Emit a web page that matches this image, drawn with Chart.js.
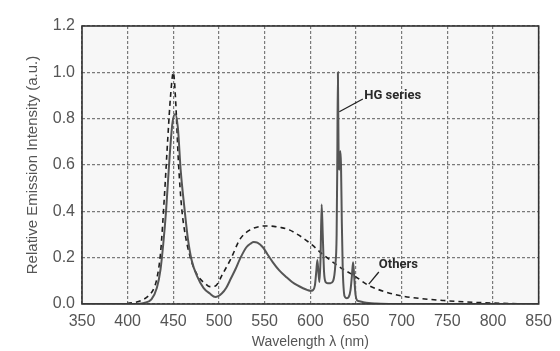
<!DOCTYPE html>
<html>
<head>
<meta charset="utf-8">
<title>Relative Emission Intensity</title>
<script src="https://cdn.jsdelivr.net/npm/chart.js@4.4.0/dist/chart.umd.min.js"></script>
<style>
  html, body { margin: 0; padding: 0; background: #fff; }
  #wrap { width: 560px; height: 351px; position: relative; }
</style>
</head>
<body>
<div id="wrap"><canvas id="chart-spectrum"></canvas></div>
<script>
/* Emission spectra — HG series vs. others */

// ── data ──
const hgWavelengths = [350, 405, 418, 426, 432, 436, 439, 442, 446, 449, 452, 455, 458, 462, 466, 470, 476, 483, 490, 496,
  503, 508, 513, 518, 523, 530, 535, 538, 542, 548, 553, 559, 566, 574, 580, 586, 592, 597, 600, 603,
  605, 606.5, 607.7, 609, 610, 611.2, 612.4, 613.6, 615, 616.7, 619, 622, 625, 627.4, 628.8, 629.5, 630.2, 631, 631.8, 632.8,
  633.6, 634.5, 635.5, 636.8, 638, 640, 642, 644, 645.5, 646.8, 648, 649.5, 651, 654, 658, 664, 672, 690, 720, 850];
const hgIntensity = [0, 0, 0.005, 0.02, 0.07, 0.15, 0.26, 0.4, 0.64, 0.78, 0.82, 0.76, 0.58, 0.42, 0.28, 0.19, 0.12, 0.07, 0.045, 0.03,
  0.045, 0.07, 0.11, 0.15, 0.195, 0.245, 0.262, 0.268, 0.265, 0.245, 0.215, 0.18, 0.145, 0.115, 0.095, 0.08, 0.068, 0.06, 0.057, 0.06,
  0.08, 0.14, 0.19, 0.13, 0.095, 0.2, 0.43, 0.3, 0.14, 0.095, 0.09, 0.09, 0.1, 0.17, 0.3, 0.6, 1.0, 0.62, 0.58, 0.66,
  0.6, 0.35, 0.15, 0.05, 0.03, 0.025, 0.03, 0.06, 0.12, 0.18, 0.12, 0.04, 0.017, 0.012, 0.008, 0.004, 0.002, 0, 0, 0];

const othersWavelengths = [350, 390, 405, 415, 424, 429, 432, 436, 440, 444, 447, 450, 452.5, 455.5, 459, 463, 468, 473, 479, 485,
  490, 496, 504, 513, 523, 534, 545, 552, 560, 568, 577, 584, 592, 602, 612, 625, 636, 647, 663, 680,
  700, 720, 746, 770, 800, 830, 850];
const othersIntensity = [0, 0, 0.005, 0.015, 0.04, 0.07, 0.11, 0.22, 0.45, 0.72, 0.9, 1.0, 0.88, 0.62, 0.42, 0.3, 0.21, 0.15, 0.11, 0.088,
  0.075, 0.078, 0.13, 0.195, 0.28, 0.32, 0.335, 0.337, 0.335, 0.33, 0.32, 0.305, 0.285, 0.255, 0.22, 0.18, 0.15, 0.125, 0.082, 0.055,
  0.035, 0.024, 0.015, 0.009, 0.004, 0.001, 0];

const xTicks = [350, 400, 450, 500, 550, 600, 650, 700, 750, 800, 850];
const yTicks = [0, 0.2, 0.4, 0.6, 0.8, 1.0, 1.2];

const seriesLabels = ['HG series', 'Others'];

(function () {
  'use strict';

  const toPoints = (xs, ys) => xs.map((x, i) => ({ x: x, y: ys[i] }));

  // callouts: text + leader line, anchored in data units
  const CALLOUTS = [
    { text: seriesLabels[0], at: [659, 0.90], from: [631.7, 0.83], to: [657.5, 0.885] },
    { text: seriesLabels[1], at: [675, 0.168], from: [664, 0.086], to: [675, 0.138] }
  ];

  // ══════════════════════════════════════════
  // PLUGINS
  // ══════════════════════════════════════════
  const plotFrame = {
    id: 'plotFrame',
    beforeDraw(chart) {
      const a = chart.chartArea, ctx = chart.ctx;
      ctx.save();
      ctx.fillStyle = '#f7f7f7';
      ctx.fillRect(a.left, a.top, a.right - a.left, a.bottom - a.top);
      ctx.restore();
    },
    afterDraw(chart) {
      const a = chart.chartArea, ctx = chart.ctx;
      ctx.save();
      ctx.strokeStyle = '#333';
      ctx.lineWidth = 1.6;
      ctx.strokeRect(a.left, a.top, a.right - a.left, a.bottom - a.top);
      ctx.restore();
    }
  };

  const callouts = {
    id: 'callouts',
    afterDatasetsDraw(chart) {
      const sx = chart.scales.x, sy = chart.scales.y, ctx = chart.ctx;
      ctx.save();
      CALLOUTS.forEach(c => {
        ctx.strokeStyle = '#222';
        ctx.lineWidth = 1.3;
        ctx.beginPath();
        ctx.moveTo(sx.getPixelForValue(c.from[0]), sy.getPixelForValue(c.from[1]));
        ctx.lineTo(sx.getPixelForValue(c.to[0]), sy.getPixelForValue(c.to[1]));
        ctx.stroke();
        ctx.fillStyle = '#2a2a2a';
        ctx.font = "bold 13px Roboto, 'Liberation Sans', sans-serif";
        ctx.textAlign = 'left';
        ctx.textBaseline = 'middle';
        ctx.fillText(c.text, sx.getPixelForValue(c.at[0]), sy.getPixelForValue(c.at[1]));
      });
      ctx.restore();
    }
  };

  // ══════════════════════════════════════════
  // CHART
  // ══════════════════════════════════════════
  const gridStyle = {
    color: '#7a7a7a',
    lineWidth: 1.2,
    drawTicks: false
  };

  new Chart(document.getElementById('chart-spectrum'), {
    type: 'line',
    data: {
      datasets: [
        {
          label: seriesLabels[0],
          data: toPoints(hgWavelengths, hgIntensity),
          borderColor: '#555',
          borderWidth: 2,
          pointRadius: 0,
          cubicInterpolationMode: 'monotone',
          fill: false
        },
        {
          label: seriesLabels[1],
          data: toPoints(othersWavelengths, othersIntensity),
          borderColor: '#1e1e1e',
          borderWidth: 1.6,
          borderDash: [5, 4],
          pointRadius: 0,
          cubicInterpolationMode: 'monotone',
          fill: false
        }
      ]
    },
    options: {
      responsive: true,
      maintainAspectRatio: false,
      animation: false,
      layout: { padding: { left: 0, top: 26, right: 0, bottom: 0 } },
      plugins: {
        legend: { display: false },
        tooltip: { enabled: false }
      },
      scales: {
        x: {
          type: 'linear',
          min: 350, max: 850,
          afterBuildTicks: (s) => { s.ticks = xTicks.map(v => ({ value: v })); },
          afterFit: (s) => { s.height = 47; },
          grid: gridStyle,
          border: { display: false, dash: [3, 2] },
          ticks: {
            padding: 8,
            color: '#555',
            font: { family: "'Liberation Sans', Arial", size: 16 },
            maxRotation: 0,
            autoSkip: false
          },
          title: {
            display: true,
            text: 'Wavelength λ (nm)',
            color: '#555',
            font: { family: "'Liberation Sans', Arial", size: 14 },
            padding: { top: 2, bottom: 0 }
          }
        },
        y: {
          min: 0, max: 1.2,
          afterBuildTicks: (s) => { s.ticks = yTicks.map(v => ({ value: v })); },
          afterFit: (s) => { s.width = 82; },
          grid: gridStyle,
          border: { display: false, dash: [3, 2] },
          ticks: {
            padding: 7,
            color: '#555',
            font: { family: "'Liberation Sans', Arial", size: 16 },
            callback: (v) => v.toFixed(1)
          },
          title: {
            display: true,
            text: 'Relative Emission Intensity (a.u.)',
            color: '#555',
            font: { family: "'Liberation Sans', Arial", size: 15 },
            padding: { top: 24, bottom: 4 }
          }
        }
      }
    },
    plugins: [plotFrame, callouts]
  });
})();
</script>
</body>
</html>
